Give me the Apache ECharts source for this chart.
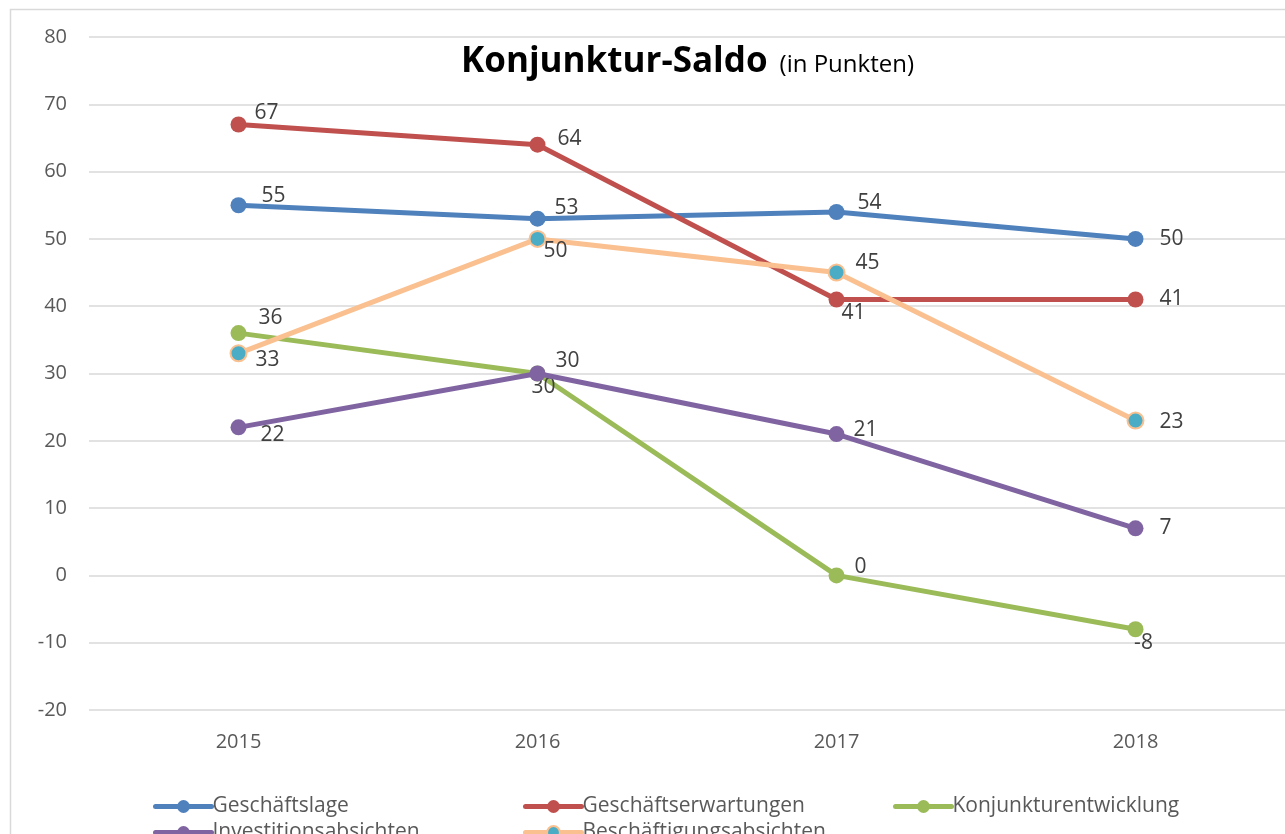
<!DOCTYPE html>
<html>
<head>
<meta charset="utf-8">
<script src="https://cdn.jsdelivr.net/npm/echarts@6/dist/echarts.min.js"></script>
<style>
  html, body { margin: 0; padding: 0; background: #fff; }
  #chart { width: 1285px; height: 834px; }
</style>
</head>
<body>
<div id="chart"></div>
<script>
const years = ['2015', '2016', '2017', '2018']
const geschaeftslage = [55, 53, 54, 50]
const geschaeftserwartungen = [67, 64, 41, 41]
const konjunktur = [36, 30, 0, -8]
const investition = [22, 30, 21, 7]
const beschaeftigung = [33, 50, 45, 23]

const seriesNames = ['Geschäftslage', 'Geschäftserwartungen', 'Konjunkturentwicklung', 'Investitionsabsichten', 'Beschäftigungsabsichten']

// label offsets per point [dx, dy] relative to the marker
const labelOffsets = [
  [[35, -9], [29, -11], [33, -9], [36, 0]],
  [[28, -11], [32, -6], [17, 14], [36, 0]],
  [[32, -15], [6, 14], [24, -8], [8, 14]],
  [[34, 8], [30, -12], [29, -4], [30, 0]],
  [[29, 7], [18, 12], [31, -10], [36, 1]]
]

const fontFamily = '"Open Sans", "Noto Sans", sans-serif'

const makeSeries = (name, values, color, idx, markerFill) => ({
  name,
  type: 'line',
  data: values.map((v, i) => ({
    value: v,
    label: { offset: labelOffsets[idx][i] }
  })),
  symbol: 'circle',
  symbolSize: 16,
  lineStyle: { color, width: 5, cap: 'round' },
  itemStyle: {
    color: markerFill || color,
    borderColor: color,
    borderWidth: markerFill ? 2 : 0
  },
  label: {
    show: true,
    position: 'inside',
    color: '#404040',
    fontSize: 21,
    fontFamily
  },
  emphasis: { disabled: true },
  z: 3 + idx
})

const legendPos = [
  { left: 148, top: 791 },
  { left: 518, top: 791 },
  { left: 888, top: 791 },
  { left: 148, top: 817 },
  { left: 518, top: 817 }
]

const myChart = echarts.init(document.getElementById('chart'))
const option = {
  animation: false,
  backgroundColor: '#fff',
  textStyle: { fontFamily },
  title: {
    text: '{b|Konjunktur-Saldo}{s|(in Punkten)}',
    left: 456,
    top: 40,
    textStyle: {
      rich: {
        b: { fontSize: 35, fontWeight: 'bold', color: '#000', fontFamily },
        s: { fontSize: 24, fontWeight: 'normal', color: '#000', fontFamily, padding: [6, 0, 0, 12] }
      }
    }
  },
  graphic: [{
    type: 'rect',
    shape: { x: 10.5, y: 9.5, width: 1300, height: 900 },
    style: { fill: 'none', stroke: '#d9d9d9', lineWidth: 1.5 },
    silent: true,
    z: -1
  }],
  legend: seriesNames.map((n, i) => ({
    data: [n],
    left: legendPos[i].left,
    top: legendPos[i].top,
    itemWidth: 56,
    itemHeight: 16,
    itemGap: 0,
    lineStyle: { width: 5, cap: 'round' },
    textStyle: { fontSize: 21, color: '#595959', fontFamily, padding: [0, 0, 0, -4] }
  })),
  grid: { left: 89, right: 0, top: 37, bottom: 124 },
  xAxis: {
    type: 'category',
    data: years,
    boundaryGap: true,
    axisLine: { show: false },
    axisTick: { show: false },
    axisLabel: { color: '#595959', fontSize: 20, margin: 22, fontFamily }
  },
  yAxis: {
    type: 'value',
    min: -20,
    max: 80,
    interval: 10,
    axisLine: { show: false },
    axisTick: { show: false },
    axisLabel: { color: '#595959', fontSize: 20, margin: 22, fontFamily },
    splitLine: { lineStyle: { color: '#d9d9d9', width: 1.5 } }
  },
  series: [
    makeSeries(seriesNames[0], geschaeftslage, '#4F81BD', 0),
    makeSeries(seriesNames[1], geschaeftserwartungen, '#C0504D', 1),
    makeSeries(seriesNames[2], konjunktur, '#9BBB59', 2),
    makeSeries(seriesNames[3], investition, '#8064A2', 3),
    makeSeries(seriesNames[4], beschaeftigung, '#FAC090', 4, '#4BACC6')
  ]
}
myChart.setOption(option)
window.addEventListener('resize', () => myChart && myChart.resize())
</script>
</body>
</html>
